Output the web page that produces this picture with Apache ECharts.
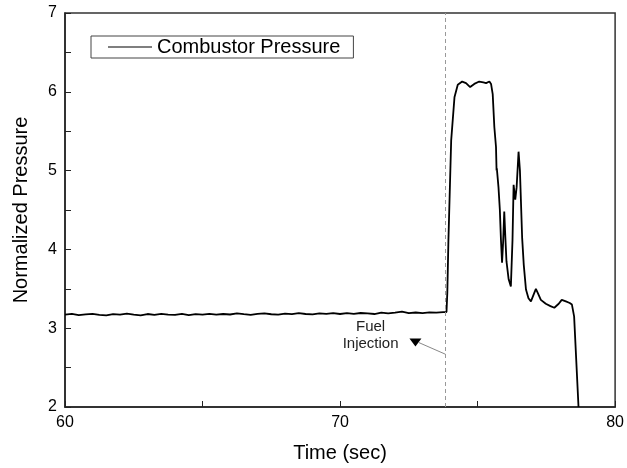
<!DOCTYPE html>
<html>
<head>
<meta charset="utf-8">
<script src="https://cdn.jsdelivr.net/npm/echarts@6/dist/echarts.min.js"></script>
<style>
  html, body { margin: 0; padding: 0; background: #fff; }
  #chart { width: 627px; height: 468px; }
</style>
</head>
<body>
<div id="chart"></div>
<script>
// Steady-state segment before injection (time in s, normalized pressure)
const baseTimes = [
  60.00, 60.25, 60.50, 60.75, 61.00, 61.25, 61.50, 61.75, 62.00, 62.25,
  62.50, 62.75, 63.00, 63.25, 63.50, 63.75, 64.00, 64.25, 64.50, 64.75,
  65.00, 65.25, 65.50, 65.75, 66.00, 66.25, 66.50, 66.75, 67.00, 67.25,
  67.50, 67.75, 68.00, 68.25, 68.50, 68.75, 69.00, 69.25, 69.50, 69.75,
  70.00, 70.25, 70.50, 70.75, 71.00, 71.25, 71.50, 71.75, 72.00, 72.25,
  72.50, 72.75, 73.00, 73.25, 73.50, 73.75, 73.87
];
const baseValues = [
  3.172, 3.181, 3.165, 3.176, 3.183, 3.170, 3.162, 3.179, 3.171, 3.184,
  3.173, 3.164, 3.180, 3.170, 3.182, 3.172, 3.168, 3.181, 3.166, 3.179,
  3.172, 3.183, 3.171, 3.180, 3.174, 3.188, 3.178, 3.170, 3.182, 3.189,
  3.177, 3.172, 3.186, 3.178, 3.190, 3.180, 3.176, 3.189, 3.181, 3.192,
  3.180, 3.190, 3.182, 3.193, 3.188, 3.180, 3.197, 3.188, 3.198, 3.210,
  3.190, 3.199, 3.192, 3.201, 3.197, 3.203, 3.205
];
// Combustion transient after fuel injection
const burnTimes = [
  73.90, 73.94, 74.04, 74.16, 74.28, 74.44, 74.58, 74.73, 74.88, 75.06,
  75.21, 75.31, 75.43, 75.49, 75.55, 75.61, 75.67, 75.69, 75.70, 75.76,
  75.81, 75.85, 75.89, 75.93, 75.97, 76.01, 76.05, 76.13, 76.21, 76.27,
  76.31, 76.37, 76.42, 76.49, 76.54, 76.62, 76.68, 76.76, 76.85, 76.94,
  77.03, 77.12, 77.20, 77.30, 77.48, 77.65, 77.79, 77.95, 78.06, 78.21,
  78.35, 78.43, 78.51, 78.67
];
const burnValues = [
  3.45, 4.12, 5.38, 5.93, 6.09, 6.13, 6.11, 6.06, 6.10, 6.13,
  6.12, 6.11, 6.13, 6.10, 5.97, 5.55, 5.30, 5.00, 5.03, 4.79,
  4.50, 4.12, 3.83, 4.10, 4.48, 4.15, 3.85, 3.62, 3.53, 4.12,
  4.82, 4.63, 4.79, 5.24, 5.00, 4.15, 3.80, 3.49, 3.38, 3.34,
  3.42, 3.50, 3.44, 3.36, 3.31, 3.28, 3.26, 3.31, 3.36, 3.34,
  3.32, 3.30, 3.15, 2.00
];
const injectionTime = 73.83;
const xTicks = [60, 70, 80];
const yTicks = [2, 3, 4, 5, 6, 7];

const pressure = baseTimes.map((t, i) => [t, baseValues[i]])
  .concat(burnTimes.map((t, i) => [t, burnValues[i]]));

const FONT = '"Liberation Sans", Arial, sans-serif';
const chart = echarts.init(document.getElementById('chart'), null, { renderer: 'canvas' });

chart.setOption({
  animation: false,
  backgroundColor: '#fff',
  grid: { left: 65, right: 10, top: 13, bottom: 60, show: true, borderColor: '#333', borderWidth: 1.5 },
  legend: {
    left: 91, top: 36,
    padding: [1, 13, 1, 17],
    borderColor: '#444', borderWidth: 1,
    itemWidth: 44, itemHeight: 16, itemGap: 6,
    textStyle: { fontFamily: FONT, fontSize: 20, color: '#000', lineHeight: 18 },
    data: [{ name: 'Combustor Pressure', icon: 'path://M0,7.4 L44,7.4 L44,8.6 L0,8.6 Z' }],
    itemStyle: { color: '#000' }
  },
  xAxis: {
    type: 'value', min: xTicks[0], max: xTicks[xTicks.length - 1], interval: 10,
    name: 'Time (sec)', nameLocation: 'middle', nameGap: 36,
    nameTextStyle: { fontFamily: FONT, fontSize: 20, color: '#000' },
    axisLine: { onZero: false, lineStyle: { color: '#222', width: 1.5 } },
    axisTick: { inside: true, length: 6, lineStyle: { color: '#222' } },
    minorTick: { show: true, splitNumber: 2, length: 6, lineStyle: { color: '#222' } },
    axisLabel: { fontFamily: FONT, fontSize: 16, color: '#000', margin: 8 },
    splitLine: { show: false }
  },
  yAxis: {
    type: 'value', min: yTicks[0], max: yTicks[yTicks.length - 1], interval: 1,
    name: 'Normalized Pressure', nameLocation: 'middle', nameGap: 34,
    nameTextStyle: { fontFamily: FONT, fontSize: 20, color: '#000' },
    axisLine: { onZero: false, lineStyle: { color: '#222', width: 1.5 } },
    axisTick: { inside: true, length: 6, lineStyle: { color: '#222' } },
    minorTick: { show: true, splitNumber: 2, length: 6, lineStyle: { color: '#222' } },
    axisLabel: { fontFamily: FONT, fontSize: 16, color: '#000', margin: 8 },
    splitLine: { show: false }
  },
  series: [{
    name: 'Combustor Pressure',
    type: 'line',
    symbol: 'none',
    data: pressure,
    lineStyle: { color: '#000', width: 1.8 },
    itemStyle: { color: '#000' },
    z: 3,
    markLine: {
      silent: true, symbol: 'none',
      label: { show: false },
      lineStyle: { color: '#999', type: [4, 3], width: 1 },
      data: [{ xAxis: injectionTime }]
    }
  }]
});

// "Fuel Injection" callout anchored in data space
function drawCallout() {
  const txt = chart.convertToPixel({ gridIndex: 0 }, [71.11, 2.915]);
  const tri = chart.convertToPixel({ gridIndex: 0 }, [72.74, 2.82]);
  const tip = chart.convertToPixel({ gridIndex: 0 }, [injectionTime, 2.67]);
  chart.setOption({
    graphic: [
      { type: 'text', x: txt[0], y: txt[1],
        style: { text: 'Fuel\nInjection', font: '15px ' + FONT, fill: '#222',
                 align: 'center', verticalAlign: 'middle', lineHeight: 17 } },
      { type: 'polygon',
        shape: { points: [[tri[0] - 6, tri[1] - 4], [tri[0] + 6, tri[1] - 4], [tri[0], tri[1] + 4]] },
        style: { fill: '#000' } },
      { type: 'line', shape: { x1: tri[0] + 3, y1: tri[1], x2: tip[0], y2: tip[1] },
        style: { stroke: '#888', lineWidth: 1 } }
    ]
  });
}
drawCallout();
</script>
</body>
</html>
